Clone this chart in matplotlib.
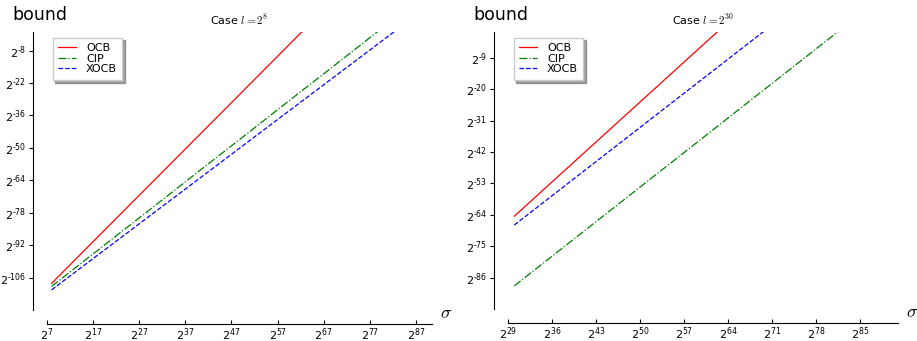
import matplotlib
matplotlib.use("Agg")
import matplotlib.pyplot as plt

plt.rcParams['mathtext.fontset'] = 'cm'
plt.rcParams['font.family'] = ['DejaVu Sans']

# ---- data (log2 values) ----
series_names = ["OCB", "CIP", "XOCB"]

# Case l = 2^8
sigma_exp_a = [8, 20, 30, 40, 50, 60, 70, 80, 90]
ocb_a = [-108.5, -84.5, -64.5, -44.5, -24.5, -4.5, 15.5, 35.5, 55.5]
cip_a = [-109.8, -91.1, -75.6, -60.0, -44.5, -28.9, -13.4, 2.2, 17.7]
xocb_a = [-111.3, -93.3, -78.3, -63.3, -48.3, -33.3, -18.3, -3.3, 11.7]
xticks_a = [7, 17, 27, 37, 47, 57, 67, 77, 87]
yticks_a = [-106, -92, -78, -64, -50, -36, -22, -8]

# Case l = 2^30
sigma_exp_b = [30, 40, 50, 60, 70, 80, 90]
ocb_b = [-64.5, -44.5, -24.5, -4.5, 15.5, 35.5, 55.5]
cip_b = [-88.9, -71.6, -54.3, -37.0, -19.7, -2.4, 14.9]
xocb_b = [-67.6, -50.5, -33.4, -16.3, 0.8, 17.9, 35.0]
xticks_b = [29, 36, 43, 50, 57, 64, 71, 78, 85]
yticks_b = [-86, -75, -64, -53, -42, -31, -20, -9]

titles = [r"Case $l = 2^{8}$", r"Case $l = 2^{30}$"]

fig = plt.figure(figsize=(9.17, 3.41), dpi=100)
ax1 = fig.add_axes([47/917, 31/341, 385/917, 278/341])
ax2 = fig.add_axes([508/917, 32/341, 390/917, 277/341])

styles = [dict(color='red', ls='-'), dict(color='green', ls='-.'), dict(color='blue', ls='--')]

def pow2(t):
    s = str(t).replace('-', '\u2010')
    return r'$\mathregular{2^{%s}}$' % s

def setup(ax, xs, ys_list, xticks, yticks, xlim, ylim, title):
    for name, ys, st in zip(series_names, ys_list, styles):
        ax.plot(xs, ys, label=name, lw=0.9, **st)
    ax.set_xlim(*xlim)
    ax.set_ylim(*ylim)
    for s in ['top', 'right']:
        ax.spines[s].set_visible(False)
    ax.spines['left'].set_position(('outward', 10))
    ax.spines['bottom'].set_position(('outward', 10))
    ax.set_xticks(xticks)
    ax.set_xticklabels([pow2(t) for t in xticks])
    ax.set_yticks(yticks)
    ax.set_yticklabels([pow2(t) for t in yticks])
    ax.tick_params(axis='x', direction='in', length=3, labelsize=8, pad=1.5)
    ax.tick_params(axis='y', direction='out', length=3, labelsize=8, pad=2)
    ax.set_title(title, fontsize=8, pad=5)
    leg = ax.legend(loc='upper left', fontsize=8, fancybox=False, shadow=True,
                    handlelength=1.6, borderaxespad=0.5, labelspacing=0.05,
                    borderpad=0.5, handletextpad=0.9)
    leg.get_frame().set_edgecolor('#cccccc')
    ax.text(-0.09, 1.03, 'bound', transform=ax.transAxes, fontsize=12.5,
            ha='left', va='bottom')
    ax.text(1.02, -0.01, r'$\sigma$', transform=ax.transAxes, fontsize=13,
            ha='left', va='center')

setup(ax1, sigma_exp_a, [ocb_a, cip_a, xocb_a], xticks_a, yticks_a, (7, 90.5), (-120, 0), titles[0])
setup(ax2, sigma_exp_b, [ocb_b, cip_b, xocb_b], xticks_b, yticks_b, (29, 91), (-97, 0), titles[1])

fig.savefig('out.png', dpi=100)
